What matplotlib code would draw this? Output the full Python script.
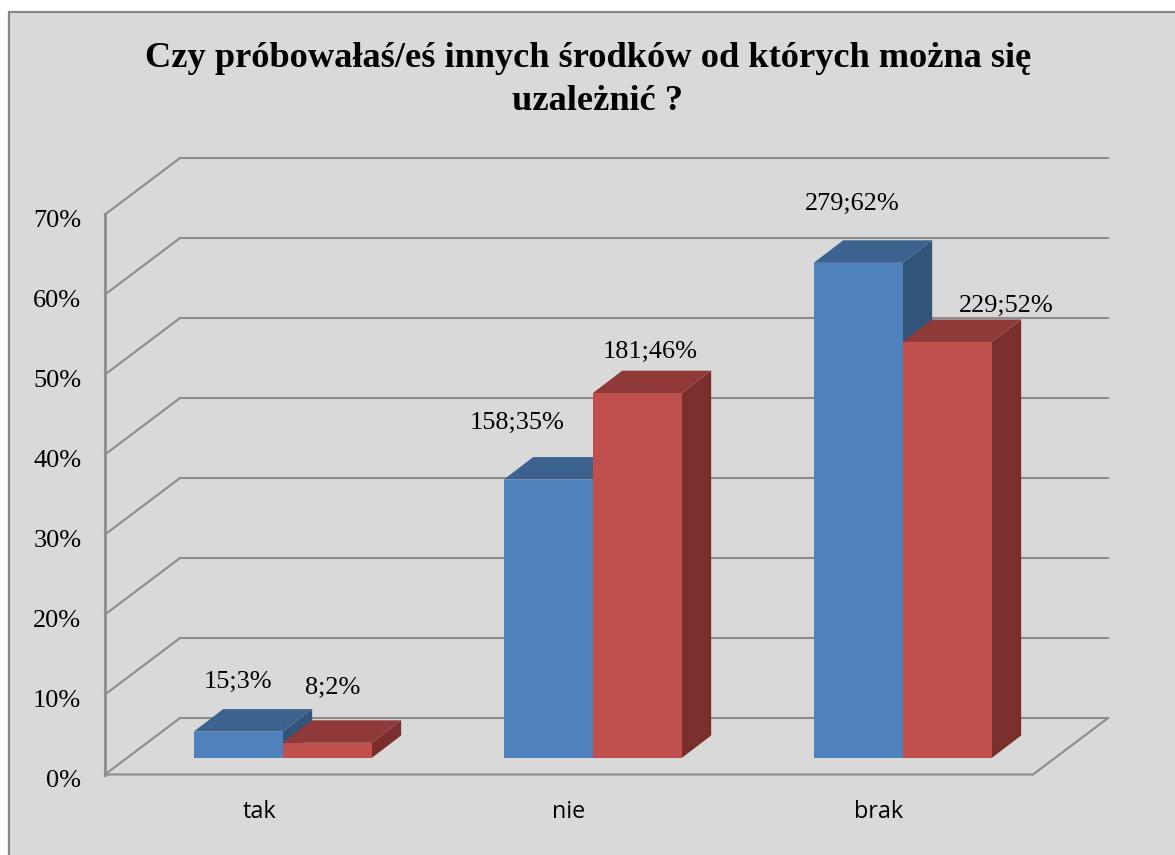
# -*- coding: utf-8 -*-
import numpy as np
import matplotlib
matplotlib.use("Agg")
import matplotlib.pyplot as plt
from matplotlib.patches import Polygon, Rectangle
from matplotlib.transforms import ScaledTranslation

categories = ["tak", "nie", "brak"]
blue_pct = [3.3, 34.8, 61.9]
red_pct = [1.9, 45.6, 52.0]
blue_counts = [15, 158, 279]
red_counts = [8, 181, 229]
blue_rounded = [3, 35, 62]
red_rounded = [2, 46, 52]
y_ticks = [0, 10, 20, 30, 40, 50, 60, 70]
y_labels = ["0%", "10%", "20%", "30%", "40%", "50%", "60%", "70%"]
title_1 = "Czy próbowałaś/eś innych środków od których można się"
title_2 = "uzależnić ?"

W, H = 1175, 855
plt.rcParams["font.family"] = ["Liberation Serif", "DejaVu Serif"]

fig = plt.figure(figsize=(W / 100, H / 100), dpi=100, facecolor="white")
fig.patches.append(Rectangle((9 / W, -0.01), 1.1, 1.0 - 12 / H + 0.01, transform=fig.transFigure,
                             fc="#d9d9d9", ec="#868686", lw=1.6, zorder=-1))

# axes = the front plane of the fake 3d box
left, right, top, bottom = 105, 1033, 214.5, 774.5
ax = fig.add_axes([left / W, 1 - bottom / H, (right - left) / W, (bottom - top) / H])
ax.patch.set_visible(False)
ax.set_xlim(-0.5, 2.5)
ax.set_ylim(0, 70)
for s in ax.spines.values():
    s.set_visible(False)

# pixel -> data
px = 3 / (right - left)
py = 70 / (bottom - top)
box_dx, box_dy = 75 * px, 56.5 * py
bar_dx, bar_dy = 29.5 * px, 22.5 * py
base_dx, base_dy = 23 * px, 16.5 * py
bar_w = 89 * px
bar_step = 310 * px

grid_c = "#8c8c8c"
grid_lw = 1.5
for y in y_ticks:
    ax.plot([-0.5, -0.5 + box_dx], [y, y + box_dy], color=grid_c, lw=grid_lw, clip_on=False, zorder=1)
    ax.plot([-0.5 + box_dx, 2.5 + box_dx], [y + box_dy, y + box_dy], color=grid_c, lw=grid_lw, clip_on=False, zorder=1)
ax.plot([-0.5, -0.5], [0, 70], color=grid_c, lw=2, clip_on=False, zorder=2)
ax.plot([-0.5, 2.5, 2.5 + box_dx], [0, 0, box_dy], color=grid_c, lw=grid_lw, clip_on=False, zorder=2)


def bar3d(x0, h, front, top_c, side):
    y0 = base_dy
    y1 = base_dy + h
    x1 = x0 + bar_w
    ax.add_patch(Polygon([(x1, y0), (x1 + bar_dx, y0 + bar_dy), (x1 + bar_dx, y1 + bar_dy), (x1, y1)],
                         fc=side, ec="none", clip_on=False, zorder=3))
    ax.add_patch(Polygon([(x0, y1), (x1, y1), (x1 + bar_dx, y1 + bar_dy), (x0 + bar_dx, y1 + bar_dy)],
                         fc=top_c, ec="none", clip_on=False, zorder=3))
    ax.add_patch(Polygon([(x0, y0), (x1, y0), (x1, y1), (x0, y1)],
                         fc=front, ec="none", clip_on=False, zorder=3))


x = np.arange(len(categories))
blue_off = [(0, 50), (-31, 57), (-6, 59)]
red_off = [(6, 55), (13, 41), (59, 36)]
for i in x:
    x_blue = i * bar_step - bar_w + base_dx
    x_red = i * bar_step + base_dx
    bar3d(x_blue, blue_pct[i], "#4f81bd", "#3c6290", "#325479")
    bar3d(x_red, red_pct[i], "#c0504d", "#8f3a38", "#7b2f2d")
    ax.annotate(f"{blue_counts[i]};{blue_rounded[i]}%", (x_blue + bar_w / 2, base_dy + blue_pct[i]),
                xytext=blue_off[i], textcoords="offset pixels", ha="center", va="center",
                fontsize=18.9, color="black", zorder=5)
    ax.annotate(f"{red_counts[i]};{red_rounded[i]}%", (x_red + bar_w / 2, base_dy + red_pct[i]),
                xytext=red_off[i], textcoords="offset pixels", ha="center", va="center",
                fontsize=18.9, color="black", zorder=5)

ax.set_yticks(y_ticks)
ax.set_yticklabels(y_labels, fontsize=18.9, color="black")
ax.set_xticks(x)
ax.set_xticklabels(categories, fontsize=16.8, family=["Open Sans"], color="black")
ax.tick_params(axis="both", length=0)
ax.tick_params(axis="y", pad=17)
ax.tick_params(axis="x", pad=18.5)
for lab in ax.get_yticklabels():
    lab.set_transform(lab.get_transform() + ScaledTranslation(0, -4 / 100, fig.dpi_scale_trans))

fig.text(588 / W, 1 - 67 / H, title_1, ha="center", va="baseline", fontsize=26.2, fontweight="bold", color="black")
fig.text(597 / W, 1 - 110 / H, title_2, ha="center", va="baseline", fontsize=26.2, fontweight="bold", color="black")

fig.savefig("out.png", dpi=100, facecolor="white")
